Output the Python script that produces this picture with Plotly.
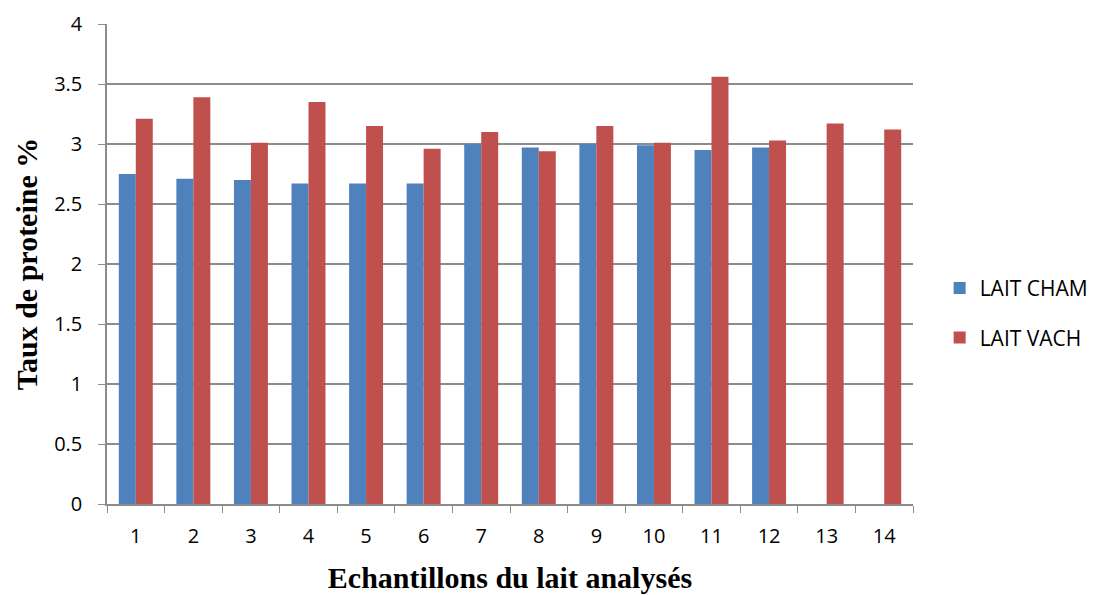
import plotly.graph_objects as go

# Sample numbers and measured protein content (%)
echantillons = [str(i) for i in range(1, 15)]
lait_cham = [2.75, 2.71, 2.70, 2.67, 2.67, 2.67, 3.00, 2.97, 3.00, 2.99, 2.95, 2.97, None, None]
lait_vach = [3.21, 3.39, 3.01, 3.35, 3.15, 2.96, 3.10, 2.94, 3.15, 3.01, 3.56, 3.03, 3.17, 3.12]
y_ticks = [0, 0.5, 1, 1.5, 2, 2.5, 3, 3.5, 4]

BLUE = "#4F81BD"
RED = "#C0504D"
GRID = "#8C8C8C"

fig = go.Figure()
fig.add_trace(go.Bar(x=echantillons, y=lait_cham, name="LAIT CHAM",
                     marker=dict(color=BLUE, line=dict(width=0)), legendgroup="cham"))
fig.add_trace(go.Bar(x=echantillons, y=lait_vach, name="LAIT VACH",
                     marker=dict(color=RED, line=dict(width=0)), legendgroup="vach"))

fig.update_layout(
    width=1099, height=595,
    margin=dict(l=107, r=186, t=24, b=91, autoexpand=False),
    paper_bgcolor="white", plot_bgcolor="white",
    barmode="group", bargap=0.41, bargroupgap=0,
    font=dict(family="Open Sans, Liberation Sans, sans-serif", size=20, color="black"),
    legend=dict(
        xref="container", yref="container",
        x=0.855, y=0.474, xanchor="left", yanchor="middle",
        font=dict(size=21), tracegroupgap=19, traceorder="grouped",
    ),
    xaxis=dict(
        type="category",
        showgrid=False,
        showline=True, linecolor=GRID, linewidth=1.5,
        ticks="outside", tickson="boundaries", ticklen=7, tickcolor=GRID,
        tickfont=dict(size=20),
        ticklabelstandoff=13,
        title=dict(text="<b>Echantillons du lait analysés</b>",
                   font=dict(family="Liberation Serif, serif", size=30, color="black"),
                   standoff=19),
    ),
    yaxis=dict(
        range=[0, 4], tickvals=y_ticks,
        showgrid=True, gridcolor=GRID, gridwidth=1.5,
        zeroline=False,
        showline=True, linecolor=GRID, linewidth=1.5,
        ticks="outside", ticklen=7, tickcolor=GRID,
        tickfont=dict(size=20),
        ticklabelstandoff=12,
        title=dict(text="<b>Taux de proteine %</b>",
                   font=dict(family="Liberation Serif, serif", size=30, color="black"),
                   standoff=8),
    ),
)

fig.write_html("out.html")
